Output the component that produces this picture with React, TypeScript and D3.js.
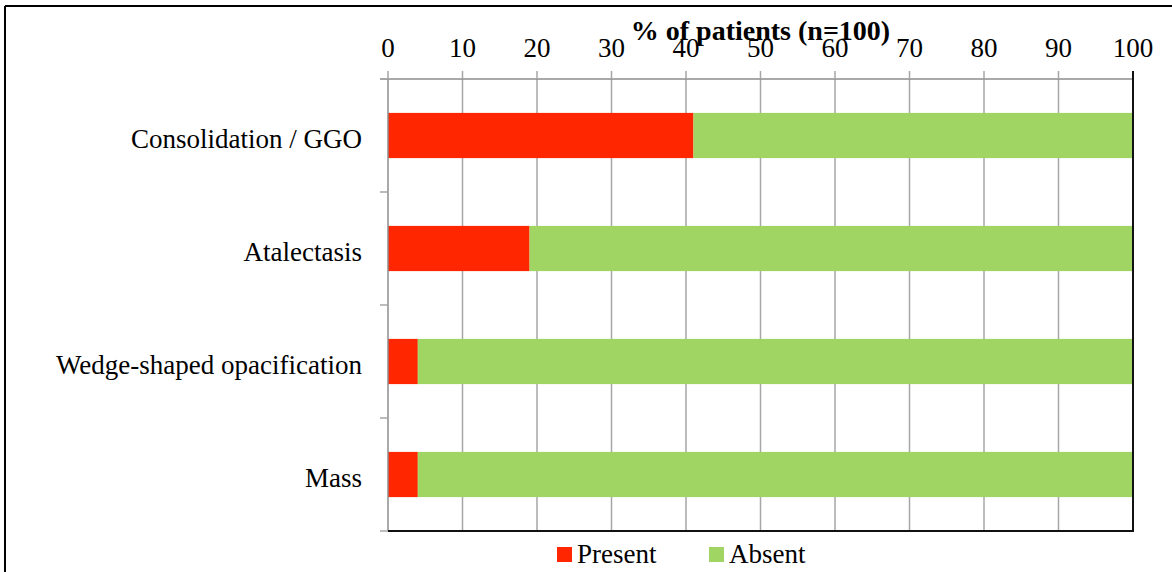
import React from "react";
import * as d3 from "d3";

const categories = ["Consolidation / GGO", "Atalectasis", "Wedge-shaped opacification", "Mass"];
const presentValues = [41, 19, 4, 4];
const absentValues = [59, 81, 96, 96];
const tickValues = [0, 10, 20, 30, 40, 50, 60, 70, 80, 90, 100];
const seriesNames = ["Present", "Absent"];
const seriesColors = ["#ff2600", "#a1d563"];
const axisTitle = "% of patients (n=100)";

const W = 1172;
const H = 572;
const margin = { left: 388, right: 1133, top: 79, bottom: 531 };
const FONT = "'Liberation Serif', 'DejaVu Serif', serif";

export default function App() {
  const x = d3.scaleLinear().domain([0, 100]).range([margin.left, margin.right]);
  const y = d3.scaleBand().domain(categories).range([margin.top, margin.bottom]).paddingInner(0.6).paddingOuter(0.3);
  const band = (margin.bottom - margin.top) / categories.length;

  const rows = categories.map((c, i) => ({ c, present: presentValues[i], absent: absentValues[i] }));
  const stack = d3.stack<any>().keys(["present", "absent"])(rows as any);

  return (
    <svg width={W} height={H} style={{ position: "absolute", left: 0, top: 0, background: "#fff" }}>
      {/* frame */}
      <line x1={5} x2={W} y1={6} y2={6} stroke="#000" strokeWidth={2} />
      <line x1={5} x2={5} y1={6} y2={H} stroke="#000" strokeWidth={2} />

      {/* vertical gridlines */}
      {tickValues.slice(1, -1).map((t) => (
        <line key={t} x1={x(t)} x2={x(t)} y1={margin.top} y2={margin.bottom} stroke="#a6a6a6" strokeWidth={1.5} />
      ))}

      {/* bars */}
      {stack.map((s, si) => (
        <g key={si} fill={seriesColors[si]}>
          {s.map((d: any, i: number) => (
            <rect key={i} x={x(d[0])} y={y(categories[i])} width={x(d[1]) - x(d[0])} height={y.bandwidth()} />
          ))}
        </g>
      ))}

      {/* top value axis */}
      <line x1={margin.left - 8} x2={margin.right} y1={margin.top} y2={margin.top} stroke="#8c8c8c" strokeWidth={1.5} />
      {tickValues.map((t) => (
        <g key={t}>
          <line x1={x(t)} x2={x(t)} y1={margin.top - 8} y2={margin.top} stroke="#a6a6a6" strokeWidth={1.5} />
          <text x={x(t)} y={57} textAnchor="middle" fontFamily={FONT} fontSize={27} fill="#000">
            {t}
          </text>
        </g>
      ))}

      {/* category axis */}
      <line x1={margin.left} x2={margin.left} y1={margin.top} y2={margin.bottom} stroke="#8c8c8c" strokeWidth={1.5} />
      {d3.range(categories.length + 1).map((i) => (
        <line key={i} x1={margin.left - 8} x2={margin.left} y1={margin.top + i * band} y2={margin.top + i * band} stroke="#a6a6a6" strokeWidth={1.5} />
      ))}
      {categories.map((c) => (
        <text key={c} x={362} y={(y(c) as number) + y.bandwidth() / 2 + 12} textAnchor="end" fontFamily={FONT} fontSize={27} fill="#000">
          {c}
        </text>
      ))}

      {/* plot border right / bottom */}
      <line x1={margin.right} x2={margin.right} y1={margin.top - 8} y2={margin.bottom} stroke="#111" strokeWidth={2} />
      <line x1={margin.left} x2={margin.right + 1} y1={margin.bottom} y2={margin.bottom} stroke="#111" strokeWidth={2} />

      {/* axis title */}
      <text x={x(50)} y={40} textAnchor="middle" fontFamily={FONT} fontSize={28} fontWeight="bold" fill="#000">
        {axisTitle}
      </text>

      {/* legend */}
      {seriesNames.map((n, i) => {
        const lx = i === 0 ? 557 : 709;
        return (
          <g key={n}>
            <rect x={lx} y={547} width={15} height={15} fill={seriesColors[i]} />
            <text x={lx + 20} y={563} fontFamily={FONT} fontSize={27} fill="#000">
              {n}
            </text>
          </g>
        );
      })}
    </svg>
  );
}
